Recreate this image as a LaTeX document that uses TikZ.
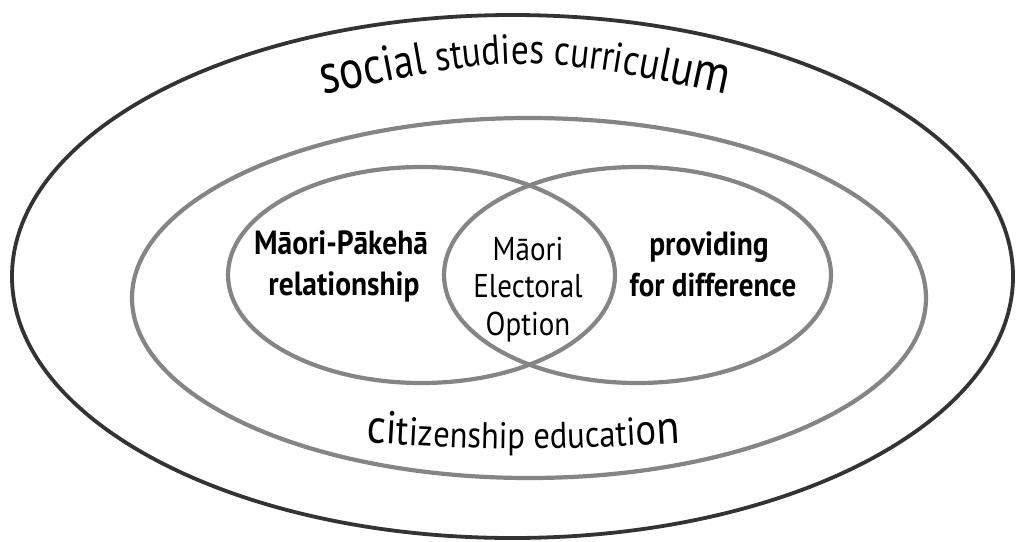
\documentclass[tikz,border=0pt]{standalone}
\usepackage{fontspec}
\setmainfont{PT Sans}
\newfontfamily\handfont[FakeStretch=0.88]{PT Sans}
\newfontfamily\handtitle[FakeStretch=0.84]{PT Sans}
\usetikzlibrary{decorations.text}
\definecolor{outerc}{HTML}{333333}
\definecolor{ringc}{HTML}{858585}
% title sizes
\newcommand\szA{\handtitle\fontsize{56}{56}\selectfont}
\newcommand\szB{\handtitle\fontsize{54}{54}\selectfont}
\newcommand\szC{\handtitle\fontsize{52}{52}\selectfont}
\newcommand\szD{\handtitle\fontsize{50}{50}\selectfont}
\newcommand\szE{\handtitle\fontsize{48}{48}\selectfont}
\newcommand\szF{\handtitle\fontsize{46}{46}\selectfont}
\newcommand\szG{\handtitle\fontsize{44}{44}\selectfont}
\newcommand\szH{\handtitle\fontsize{42}{42}\selectfont}
\newcommand\szI{\handtitle\fontsize{43}{43}\selectfont}
\newcommand\szJ{\handtitle\fontsize{45}{45}\selectfont}
\newcommand\szK{\handtitle\fontsize{47}{47}\selectfont}
% citizenship sizes
\newcommand\czA{\handfont\fontsize{48}{48}\selectfont}
\newcommand\czB{\handfont\fontsize{46}{46}\selectfont}
\newcommand\czC{\handfont\fontsize{42}{42}\selectfont}
\newcommand\czD{\handfont\fontsize{40}{40}\selectfont}
\newcommand\czE{\handfont\fontsize{38}{38}\selectfont}
\newcommand\czF{\handfont\fontsize{37}{37}\selectfont}
\newcommand\czG{\handfont\fontsize{39}{39}\selectfont}
\newcommand\czH{\handfont\fontsize{44}{44}\selectfont}
\begin{document}
\begin{tikzpicture}[x=1pt,y=-1pt,
  ring/.style={draw=ringc, line width=4.2pt},
  outring/.style={draw=outerc, line width=3.8pt},
  lbl/.style={anchor=base, inner sep=0pt, font=\handfont\bfseries\fontsize{33.5}{36}\selectfont},
  lbltwo/.style={anchor=base, inner sep=0pt, font=\handfont\bfseries\fontsize{33}{36}\selectfont},
  lenslbl/.style={anchor=base, inner sep=0pt, font=\handfont\fontsize{33}{36}\selectfont}]
\useasboundingbox (0,0) rectangle (1016,541);
\fill[white] (0,0) rectangle (1016,541);
% rings
\draw[outring] (512.5,276.5) ellipse [x radius=500.5pt, y radius=261.5pt];
\draw[ring] (529,298) ellipse [x radius=397pt, y radius=180pt];
\draw[ring] (421.5,275) ellipse [x radius=193.5pt, y radius=108pt];
\draw[ring] (637.5,275) ellipse [x radius=193.5pt, y radius=108pt];
% curved title
\coordinate (socL) at (270,106);
\coordinate (socC) at (525,50);
\coordinate (socR) at (780,106);
\path[decorate, decoration={text along path, text align=center,
  text={|\szA|s|\szB|o|\szC|c|\szD|i|\szE|a|\szF|l|\szG| |\szH|studies curri|\szI|c|\szJ|u|\szK|l|\szD|u|\szB|m}}]
  (socL) .. controls (socC) .. (socR);
% curved bottom label
\coordinate (citL) at (320,440);
\coordinate (citC) at (523,452);
\coordinate (citR) at (726,440);
\path[decorate, decoration={text along path, text align=center,
  text={|\czA|c|\czB|i|\czC|t|\czD|i|\czE|z|\czF|enship educat|\czG|i|\czH|o|\czA|n}}]
  (citL) .. controls (citC) .. (citR);
% labels
\node[lbl] (mp1) at (341,254) {Māori-Pākehā};
\node[lbl] (mp2) at (344,295) {relationship};
\node[lenslbl] (meo1) at (528,260) {Māori};
\node[lenslbl] (meo2) at (528,297) {Electoral};
\node[lenslbl] (meo3) at (528,335) {Option};
\node[lbl] (pd1) at (709,255) {providing};
\node[lbltwo] (pd2) at (713,296) {for difference};
\end{tikzpicture}
\end{document}
